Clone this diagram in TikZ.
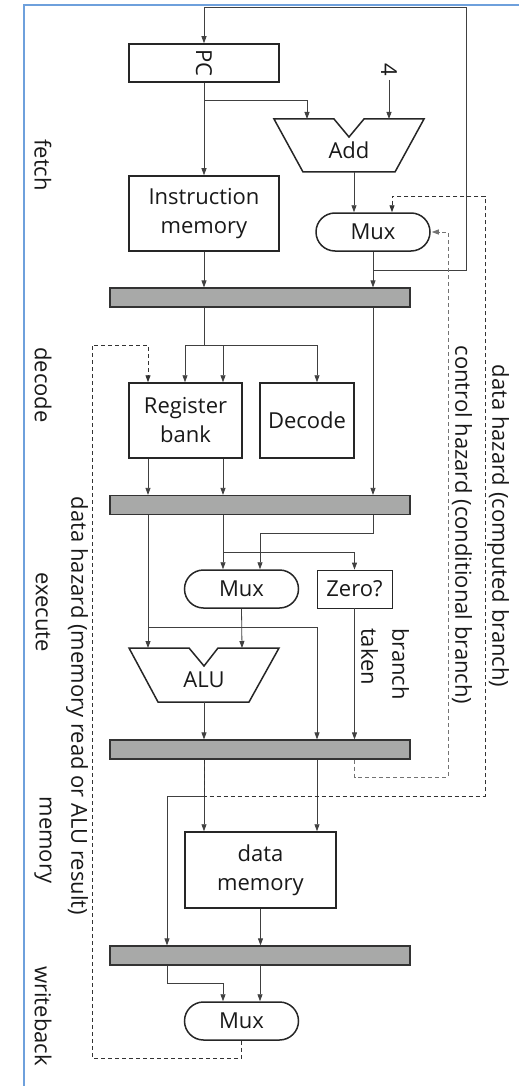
\documentclass[tikz,border=0pt]{standalone}
\usepackage{fontspec}
\usepackage{graphicx}
\setmainfont{Open Sans}
\usetikzlibrary{arrows.meta}
\definecolor{frameblue}{RGB}{110,160,220}
\definecolor{regfill}{RGB}{168,169,168}
\begin{document}
\begin{tikzpicture}[x=1pt,y=-1pt,
  every node/.style={font=\fontsize{22}{29}\selectfont, text=black!90},
  box/.style={draw=black!85, line width=1.5pt, inner sep=0pt, align=center},
  muxbox/.style={box, rounded corners=19pt, minimum width=114pt, minimum height=38pt},
  preg/.style={draw=black!80, fill=regfill, line width=1.2pt, minimum width=300pt, minimum height=19pt, inner sep=0pt},
  conn/.style={draw=black!75, line width=0.8pt},
  arr/.style={conn, -{Triangle[length=7pt,width=5pt]}},
  hz/.style={draw=black!80, line width=0.9pt, dash pattern=on 4pt off 3pt, -{Triangle[length=7pt,width=5pt]}},
  hzl/.style={hz, draw=black!55},
  lbl/.style={rotate=-90},
]
\useasboundingbox (0,0) rectangle (519,1086);
\draw[frameblue, line width=2pt] (24,1086) -- (24,5) -- (519,5);

% columns
\coordinate (c148) at (148,0);
\coordinate (c167) at (167,0);
\coordinate (c204) at (204,0);
\coordinate (c223) at (223,0);
\coordinate (c260) at (260,0);
\coordinate (c317) at (317,0);
\coordinate (c373) at (373,0);
\coordinate (c392) at (392,0);

% blocks
\node[box, minimum width=150pt, minimum height=38pt] (pc) at (204,63) {\rotatebox{-90}{PC}};
\node[box, minimum width=150pt, minimum height=75pt] (imem) at (204,213.5) {Instruction\\memory};
\node[muxbox] (mux1) at (373,232) {Mux};
\node[preg] (reg1) at (260,297.5) {};
\node[box, minimum width=113pt, minimum height=75pt] (rb) at (185.5,420.5) {Register\\bank};
\node[box, minimum width=94pt, minimum height=75pt] (dec) at (307,420.5) {Decode};
\node[preg] (reg2) at (260,505) {};
\node[muxbox] (mux2) at (241.5,589) {Mux};
\node[box, line width=0.8pt, minimum width=75pt, minimum height=38pt] (zero) at (354.5,589) {Zero?};
\node[preg] (reg3) at (260,749.5) {};
\node[box, minimum width=151pt, minimum height=76pt] (dmem) at (260.5,870) {data\\memory};
\node[preg] (reg4) at (260,955.5) {};
\node[muxbox] (mux3) at (241.5,1021) {Mux};

% adder and ALU
\draw[box] (274,119) -- (334,119) -- (349,137) -- (364,119) -- (424,119) -- (395,172) -- (303,172) -- cycle;
\node (add) at (349,150) {Add};
\draw[box] (129,648) -- (189,648) -- (204,666) -- (218,648) -- (279,648) -- (249,702) -- (158,702) -- cycle;
\node (alu) at (204,680) {ALU};
\coordinate (addinL) at (307,119);
\coordinate (addinR) at (389,119);
\coordinate (addout) at (354,172);
\coordinate (aluinL) at (148,648);
\coordinate (aluinR) at (242,648);
\coordinate (aluout) at (204,702);
\node[lbl] (four) at (389,70) {4};

% fetch connectors
\coordinate (loopR) at (466,270);
\coordinate (loopT) at (466,7);
\coordinate (pcsplit) at (204,100);
\draw[arr] (mux1.south) |- (loopR) -- (loopT) -| (pc.north);
\draw[arr] (mux1.south) -- (reg1.north -| mux1.south);
\draw[arr] (pc.south) -- (imem.north);
\draw[arr] (pcsplit) -| (addinL);
\draw[arr] (four.east) -- (addinR);
\draw[arr] (addout) -- (mux1.north -| addout);
\draw[arr] (imem.south) -- (reg1.north -| imem.south);

% decode connectors
\coordinate (dsplit) at (204,345);
\draw[conn] (reg1.south -| c204) -- (dsplit);
\draw[arr] (dsplit) -| ([xshift=-0.5pt]rb.north);
\draw[arr] (dsplit) -| (rb.north -| c223);
\draw[arr] (dsplit) -| ([xshift=10pt]dec.north);
\draw[arr] (reg1.south -| c373) -- (reg2.north -| c373);
\draw[arr] (rb.south -| c148) -- (reg2.north -| c148);
\draw[arr] (rb.south -| c223) -- (reg2.north -| c223);

% execute connectors
\coordinate (s627) at (148,627);
\coordinate (s552) at (223,552);
\coordinate (s533) at (260,533);
\draw[arr] (reg2.south -| c148) -- (aluinL);
\draw[arr] (s627) -| (reg3.north -| c317);
\draw[arr] (reg2.south -| c223) -- (mux2.north -| c223);
\draw[arr] (s552) -| (zero.north);
\draw[arr] (reg2.south -| c373) |- (s533) -- (mux2.north -| c260);
\draw[arr] (mux2.south) -- (aluinR);
\draw[arr] (aluout) -- (reg3.north -| aluout);
\draw[arr] (zero.south) -- (reg3.north -| zero.south);
\node[lbl, align=left, font=\fontsize{22}{31}\selectfont] (bt) at (385,664) {branch\\taken};

% memory / writeback connectors
\coordinate (s796) at (204,796);
\coordinate (s983) at (223,983);
\draw[arr] (reg3.south -| c204) -- (dmem.north -| c204);
\draw[arr] (s796) -| (reg4.north -| c167);
\draw[arr] (reg3.south -| c317) -- (dmem.north -| c317);
\draw[arr] (dmem.south) -- (reg4.north -| dmem.south);
\draw[arr] (reg4.south -| c167) |- (s983) -- (mux3.north -| c223);
\draw[arr] (reg4.south -| c260) -- (mux3.north -| c260);

% hazards
\coordinate (h1a) at (485,796);
\coordinate (h1b) at (392,196);
\draw[hz] (reg3.south -| c204) |- (h1a) |- (h1b) -- (mux1.north -| c392);
\coordinate (h2a) at (448,777);
\draw[hzl] (reg3.south -| zero.south) |- (h2a) |- ([xshift=1pt]mux1.east);
\coordinate (h3a) at (92,1058);
\coordinate (h3b) at (148,345);
\draw[hz] (mux3.south) |- (h3a) |- (h3b) -- (rb.north -| c148);

% labels
\node[lbl] (lfetch) at (43,165) {fetch};
\node[lbl] (ldecode) at (43,385) {decode};
\node[lbl] (lexec) at (43,612) {execute};
\node[lbl] (lmem) at (43,840) {memory};
\node[lbl] (lwb) at (43,1016) {writeback};
\node[lbl] (lh3) at (77,706) {data hazard (memory read or ALU result)};
\node[lbl] (lh2) at (462,525) {control hazard (conditional branch)};
\node[lbl] (lh1) at (498,526) {data hazard (computed branch)};
\end{tikzpicture}
\end{document}
